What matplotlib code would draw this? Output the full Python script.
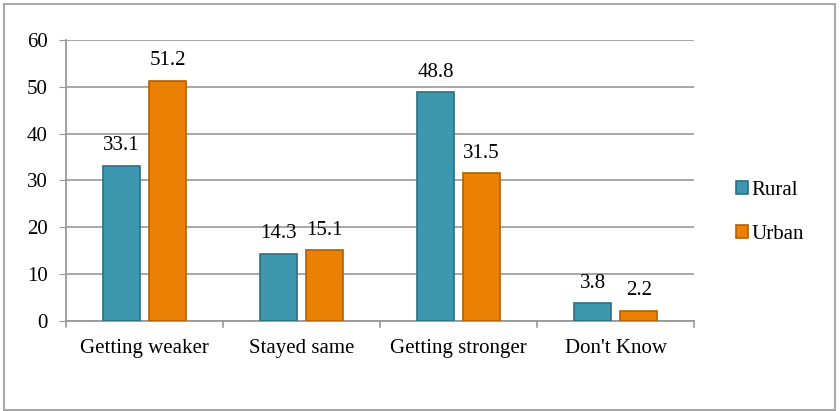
import numpy as np
import matplotlib.pyplot as plt
from matplotlib.patches import Rectangle

categories = ["Getting weaker", "Stayed same", "Getting stronger", "Don't Know"]
rural = [33.1, 14.3, 48.8, 3.8]
urban = [51.2, 15.1, 31.5, 2.2]

plt.rcParams['font.family'] = ['Liberation Serif', 'DejaVu Serif']

fig = plt.figure(figsize=(8.4, 4.11), dpi=100)
ax = fig.add_axes([0.0786, 0.219, 0.748, 0.684])

x = np.arange(len(categories))
w = 0.236
off = 0.146
b1 = ax.bar(x - off, rural, w, color='#3D97AE', edgecolor='#2C6F82', linewidth=1.2, label='Rural', zorder=3)
b2 = ax.bar(x + off, urban, w, color='#EB8104', edgecolor='#B36000', linewidth=1.2, label='Urban', zorder=3)

for bars, vals in [(b1, rural), (b2, urban)]:
    for r, v in zip(bars, vals):
        ax.text(r.get_x() + r.get_width() / 2, v + 4.3, f"{v:.1f}", ha='center', va='center', fontsize=15)

ax.set_xlim(-0.5, 3.5)
ax.set_ylim(0, 60)
ax.set_yticks(range(0, 61, 10))
ax.set_xticks(x)
ax.set_xticklabels(categories, fontsize=15)
ax.tick_params(axis='y', labelsize=15, length=5, color='#999999', pad=8)
ax.tick_params(axis='x', length=0, pad=13)
# category separators on the x axis
for t in np.arange(-0.5, 4.0, 1.0):
    ax.plot([t, t], [0, -1.3], color='#999999', lw=1.2, clip_on=False, zorder=4)
ax.yaxis.grid(True, color='#A0A0A0', lw=1.3, zorder=0)
for s in ['top', 'right']:
    ax.spines[s].set_visible(False)
for s in ['left', 'bottom']:
    ax.spines[s].set_color('#999999')
    ax.spines[s].set_linewidth(1.3)

leg = fig.legend(loc='center left', bbox_to_anchor=(0.854, 0.483), frameon=False, fontsize=15,
                 handlelength=0.55, handleheight=0.55, handletextpad=0.2, labelspacing=1.2)

fig.patches.append(Rectangle((0.005, 0.003), 0.989, 0.987, transform=fig.transFigure,
                             fill=False, edgecolor='#A8A8A8', lw=1.5))

fig.savefig('out.png', dpi=100)
